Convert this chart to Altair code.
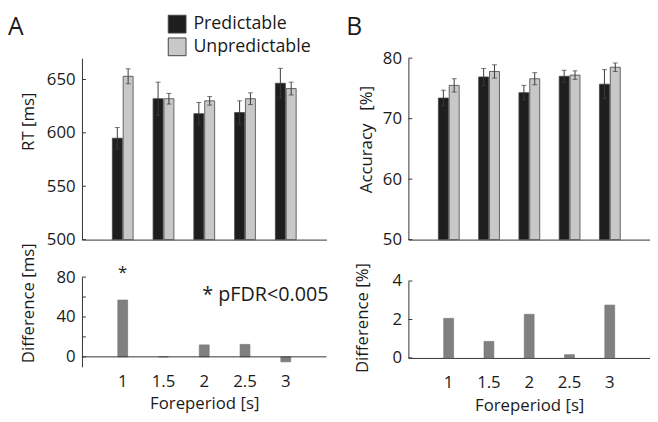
import altair as alt
import pandas as pd

# ---------------- data ----------------
foreperiods = ["1", "1.5", "2", "2.5", "3"]
conditions = ["Predictable", "Unpredictable"]

rt_pred = [595, 632, 618, 619, 646.5]
rt_pred_err = [10, 15.5, 10.5, 11, 14]
rt_unpred = [653, 632, 630, 632, 641.5]
rt_unpred_err = [7, 5, 4, 5.5, 6]
rt_diff = [57, 0, 12, 12.5, -5]

acc_pred = [73.4, 76.9, 74.3, 77.0, 75.7]
acc_pred_err = [1.3, 1.4, 1.2, 1.0, 2.4]
acc_unpred = [75.5, 77.8, 76.6, 77.2, 78.5]
acc_unpred_err = [1.1, 1.1, 1.0, 0.7, 0.7]
acc_diff = [2.06, 0.86, 2.27, 0.17, 2.75]

rt_ticks = [500, 550, 600, 650]
acc_ticks = [50, 60, 70, 80]
rt_diff_ticks = [0, 20, 40, 60, 80]
rt_diff_labels = [0, 40, 80]
acc_diff_ticks = [0, 2, 4]

FONT = "Open Sans"
AX = "#333333"
TXT = "#1a1a1a"
C_PRED = "#1e1e1e"
C_UNPRED = "#c8c8c8"
C_DIFF = "#808080"
FS = 17


def group_df(pred, pred_err, unpred, unpred_err):
    rows = []
    for i, fp in enumerate(foreperiods):
        for cond, m, e in ((conditions[0], pred[i], pred_err[i]),
                           (conditions[1], unpred[i], unpred_err[i])):
            rows.append({"fp": fp, "cond": cond, "val": m, "lo": m - e, "hi": m + e})
    return pd.DataFrame(rows)


def xscale():
    return alt.Scale(domain=foreperiods, paddingInner=0.49, paddingOuter=0.745)


def top_panel(df, ydomain, yticks, title, title_x, title_y, width, height,
              letter, letter_x, letter_y, show_legend):
    yscale = alt.Scale(domain=ydomain, nice=False, zero=False)
    yaxis = alt.Axis(values=yticks, tickSize=0, domainColor=AX, domainWidth=1,
                     labelFontSize=FS, labelPadding=7, labelColor=TXT,
                     titleFontSize=FS, titleColor=TXT, titleFontWeight="normal",
                     titleX=title_x, titleY=title_y, titleBaseline="alphabetic",
                     grid=False)
    xenc = alt.X("fp:N", sort=foreperiods, scale=xscale(),
                 axis=alt.Axis(labels=False, ticks=False, title=None,
                               domainColor=AX, domainWidth=1))
    xoff = alt.XOffset("cond:N", sort=conditions,
                       scale=alt.Scale(domain=conditions, paddingInner=0.08, paddingOuter=0))
    if show_legend:
        legend = alt.Legend(orient="none", legendX=87, legendY=-44, title=None,
                            symbolType="square", symbolSize=324,
                            symbolStrokeColor="#444444", symbolStrokeWidth=1,
                            labelFontSize=18, labelColor=TXT, labelOffset=7,
                            rowPadding=0, padding=0)
    else:
        legend = None
    color = alt.Color("cond:N", sort=conditions,
                      scale=alt.Scale(domain=conditions, range=[C_PRED, C_UNPRED]),
                      legend=legend)
    base = alt.Chart(df)
    bars = base.mark_bar(stroke="#444444", strokeWidth=0.8).encode(
        x=xenc, xOffset=xoff,
        y=alt.Y("val:Q", scale=yscale, axis=yaxis, title=title),
        y2=alt.datum(ydomain[0]),
        color=color,
    )
    err = base.mark_rule(color="#3a3a3a", strokeWidth=1).encode(
        x=xenc, xOffset=xoff,
        y=alt.Y("lo:Q", scale=yscale, axis=yaxis, title=title),
        y2="hi:Q",
    )
    cap_hi = base.mark_tick(color="#3a3a3a", size=5, thickness=1, orient="horizontal").encode(
        x=xenc, xOffset=xoff,
        y=alt.Y("hi:Q", scale=yscale, axis=yaxis, title=title),
    )
    cap_lo = base.mark_tick(color="#3a3a3a", size=5, thickness=1, orient="horizontal").encode(
        x=xenc, xOffset=xoff,
        y=alt.Y("lo:Q", scale=yscale, axis=yaxis, title=title),
    )
    ticks = alt.Chart(pd.DataFrame({"t": yticks})).mark_rule(color=AX, strokeWidth=1).encode(
        y=alt.Y("t:Q", scale=yscale, axis=yaxis, title=title),
        x=alt.value(0), x2=alt.value(4),
    )
    let = alt.Chart(pd.DataFrame({"s": [letter]})).mark_text(
        align="left", baseline="alphabetic", fontSize=25, color=TXT
    ).encode(text="s:N", x=alt.value(letter_x), y=alt.value(letter_y))
    return alt.layer(bars, err, cap_hi, cap_lo, ticks, let).properties(width=width, height=height)


def bottom_panel(diff, ydomain, yticks, ylabels, title, title_x, title_y, width, height,
                 show_domain, label_pad, xtitle_y, extra=None):
    df = pd.DataFrame({"fp": foreperiods, "val": diff})
    yscale = alt.Scale(domain=ydomain, nice=False, zero=False)
    yaxis = alt.Axis(values=ylabels, tickSize=0, domainColor=AX, domainWidth=1,
                     labelFontSize=FS, labelPadding=7, labelColor=TXT,
                     titleFontSize=FS, titleColor=TXT, titleFontWeight="normal",
                     titleX=title_x, titleY=title_y, titleBaseline="alphabetic",
                     grid=False)
    xenc = alt.X("fp:N", sort=foreperiods, scale=xscale(),
                 axis=alt.Axis(ticks=False, domain=show_domain, domainColor=AX, domainWidth=1,
                               labelAngle=0, labelFontSize=FS, labelColor=TXT,
                               labelPadding=label_pad, title="Foreperiod [s]",
                               titleFontSize=FS, titleColor=TXT, titleFontWeight="normal",
                               titleY=xtitle_y, titleBaseline="top"))
    bars = alt.Chart(df).mark_bar(width=10, color=C_DIFF, stroke="#6e6e6e", strokeWidth=0.6).encode(
        x=xenc,
        y=alt.Y("val:Q", scale=yscale, axis=yaxis, title=title),
        y2=alt.datum(0),
    )
    ticks = alt.Chart(pd.DataFrame({"t": yticks})).mark_rule(color=AX, strokeWidth=1).encode(
        y=alt.Y("t:Q", scale=yscale, axis=yaxis, title=title),
        x=alt.value(0), x2=alt.value(4),
    )
    layers = [bars, ticks]
    if not show_domain:
        zero = alt.Chart(pd.DataFrame({"z": [0]})).mark_rule(color=AX, strokeWidth=1).encode(
            y=alt.Y("z:Q", scale=yscale, axis=yaxis, title=title),
        )
        layers.append(zero)
    if extra is not None:
        layers.extend(extra)
    return alt.layer(*layers).properties(width=width, height=height)


rt_df = group_df(rt_pred, rt_pred_err, rt_unpred, rt_unpred_err)
acc_df = group_df(acc_pred, acc_pred_err, acc_unpred, acc_unpred_err)

a_top = top_panel(rt_df, [500, 670], rt_ticks, "RT [ms]", -49, 64, 248, 184,
                  "A", -75, -23, True)
b_top = top_panel(acc_df, [50, 80], acc_ticks, "Accuracy\u00a0\u00a0\u00a0[%]", -37, 82, 245, 184,
                  "B", -63, -23, False)

star = alt.Chart(pd.DataFrame({"fp": ["1"], "s": ["*"]})).mark_text(
    fontSize=FS, color=TXT, baseline="alphabetic", align="center"
).encode(x=alt.X("fp:N", sort=foreperiods, scale=xscale()), y=alt.value(1), text="s:N")
note = alt.Chart(pd.DataFrame({"s": ["* pFDR<0.005"]})).mark_text(
    fontSize=20, color=TXT, baseline="alphabetic", align="left"
).encode(x=alt.value(122), y=alt.value(24), text="s:N")

a_bot = bottom_panel(rt_diff, [-10, 80], rt_diff_ticks, rt_diff_labels, "Difference [ms]",
                     -49, 26, 248, 91, False, 7, 29, extra=[star, note])
b_bot = bottom_panel(acc_diff, [0, 4], acc_diff_ticks, acc_diff_ticks, "Difference [%]",
                     -41, 37, 245, 78, True, 17, 40)

left = alt.vconcat(a_top, a_bot, spacing=38, bounds="flush")
right = alt.vconcat(b_top, b_bot, spacing=42, bounds="flush")

chart = alt.hconcat(left, right, spacing=17).resolve_scale(
    color="independent"
).resolve_legend(color="independent").properties(
    padding={"left": 0, "top": 4, "right": 0, "bottom": 0}
).configure(font=FONT).configure_view(stroke=None).configure_axis(
    labelFont=FONT, titleFont=FONT
).configure_legend(labelFont=FONT).configure_text(font=FONT)

chart.save("out.html", embed_options={"renderer": "svg", "actions": False})
